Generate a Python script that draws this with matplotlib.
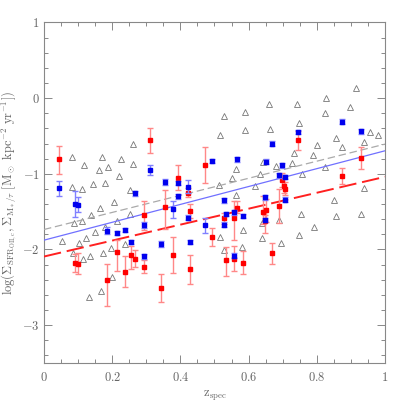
"""
Surface SFR density vs spectroscopic redshift.
"""
import numpy as np
import matplotlib
matplotlib.use("Agg")
import matplotlib.pyplot as plt
from matplotlib.ticker import MultipleLocator, FuncFormatter

# red: SFR from [OII]
red_z = [0.045, 0.090, 0.099, 0.184, 0.214, 0.239, 0.254, 0.266, 0.292, 0.292,
         0.311, 0.342, 0.354, 0.378, 0.393, 0.423, 0.428, 0.428, 0.471, 0.494,
         0.527, 0.533, 0.557, 0.557, 0.566, 0.583, 0.643, 0.648, 0.651, 0.669,
         0.689, 0.697, 0.704, 0.708, 0.744, 0.875, 0.929]
red_y = [-0.81, -2.18, -2.19, -2.40, -2.03, -2.30, -2.07, -2.12, -1.55, -2.23,
         -0.56, -2.51, -1.44, -2.07, -1.05, -1.25, -1.49, -2.26, -0.88, -1.84,
         -1.59, -2.14, -1.58, -2.12, -1.45, -2.18, -1.50, -1.63, -1.48, -2.05,
         -1.43, -1.08, -1.16, -1.20, -0.56, -1.03, -0.79]
red_err_lo = [0.19, 0.12, 0.14, 0.34, 0.26, 0.19, 0.19, 0.11, 0.19, 0.08,
              0.16, 0.19, 0.29, 0.24, 0.17, 0.06, 0.10, 0.20, 0.24, 0.12,
              0.07, 0.21, 0.30, 0.17, 0.07, 0.15, 0.16, 0.15, 0.16, 0.14,
              0.22, 0.09, 0.10, 0.08, 0.13, 0.10, 0.15]
red_err_hi = [0.18, 0.12, 0.14, 0.21, 0.15, 0.21, 0.12, 0.11, 0.19, 0.09,
              0.16, 0.18, 0.22, 0.24, 0.17, 0.06, 0.09, 0.19, 0.23, 0.12,
              0.07, 0.17, 0.22, 0.17, 0.09, 0.16, 0.20, 0.09, 0.15, 0.14,
              0.23, 0.09, 0.15, 0.09, 0.12, 0.10, 0.15]

# blue: M*/tau
blue_z = [0.045, 0.090, 0.100, 0.184, 0.214, 0.239, 0.254, 0.266, 0.292, 0.292,
          0.311, 0.342, 0.354, 0.378, 0.393, 0.393, 0.423, 0.423, 0.428, 0.471,
          0.494, 0.527, 0.527, 0.533, 0.557, 0.557, 0.566, 0.583, 0.648, 0.651,
          0.648, 0.669, 0.689, 0.697, 0.708, 0.708, 0.744, 0.875, 0.929]
blue_y = [-1.19, -1.40, -1.41, -1.75, -1.78, -1.74, -1.90, -1.26, -1.68, -2.09,
          -0.95, -1.93, -1.11, -1.47, -1.12, -1.30, -1.17, -1.58, -1.90, -1.68,
          -0.83, -1.35, -1.67, -1.53, -1.51, -2.08, -0.81, -1.56, -1.31, -0.84,
          -1.61, -0.60, -1.02, -0.89, -1.04, -1.34, -0.45, -0.31, -0.44]
blue_err = [0.10, 0.17, 0.10, 0.05, 0.03, 0.03, 0.03, 0.03, 0.04, 0.03,
            0.06, 0.04, 0.04, 0.11, 0.03, 0.03, 0.09, 0.03, 0.03, 0.10,
            0.03, 0.03, 0.03, 0.03, 0.03, 0.03, 0.03, 0.03, 0.03, 0.03,
            0.03, 0.03, 0.03, 0.03, 0.03, 0.03, 0.03, 0.03, 0.03]

# open triangles: comparison sample
tri_z = [0.081, 0.117, 0.169, 0.161, 0.187, 0.225, 0.261, 0.261, 0.081, 0.113,
         0.143, 0.180, 0.220, 0.252, 0.204, 0.164, 0.137, 0.112, 0.088, 0.150,
         0.123, 0.102, 0.052, 0.180, 0.214, 0.251, 0.239, 0.084, 0.135, 0.114,
         0.172, 0.197, 0.199, 0.168, 0.133, 0.527, 0.517, 0.589, 0.588, 0.660,
         0.662, 0.741, 0.747, 0.826, 0.823, 0.802, 0.857, 0.873, 0.897, 0.914,
         0.957, 0.979, 0.938, 0.788, 0.734, 0.726, 0.681, 0.633, 0.563, 0.551,
         0.513, 0.618, 0.564, 0.758, 0.825, 0.938, 0.849, 0.931, 0.755, 0.855,
         0.793, 0.748, 0.695, 0.688, 0.638, 0.639, 0.585, 0.580, 0.528, 0.516,
         0.642]
tri_y = [-0.775, -0.890, -0.775, -0.956, -0.907, -0.806, -0.604, -0.872, -1.176, -1.203,
         -1.141, -1.119, -1.031, -1.216, -1.374, -1.449, -1.546, -1.621, -1.656, -1.767,
         -1.846, -1.916, -1.894, -1.700, -1.626, -1.537, -1.925, -2.044, -2.088, -2.128,
         -2.048, -1.982, -2.366, -2.551, -2.634, -0.242, -0.485, -0.181, -0.427, -0.075,
         -0.405, -0.084, -0.330, 0.000, -0.198, -0.621, -0.533, -0.643, -0.123, 0.128,
         -0.454, -0.489, -0.577, -0.753, -0.731, -0.855, -0.903, -1.000, -0.938, -1.062,
         -1.154, -1.167, -1.286, -1.004, -0.912, -1.194, -1.352, -1.537, -1.537, -1.559,
         -1.709, -1.802, -1.916, -1.608, -1.656, -1.850, -1.749, -1.965, -2.009, -1.841,
         -0.846]

# linear fits, evaluated at z = 0 and z = 1
fit_z = [0.0, 1.0]
fit_tri = [-1.736, -0.608]
fit_blue = [-1.877, -0.696]
fit_red = [-2.093, -1.040]


def main():
    plt.rcParams.update({
        "mathtext.fontset": "cm",
        "font.family": "serif",
        "font.size": 8,
        "axes.linewidth": 0.8,
        "axes.edgecolor": "#888888",
        "xtick.color": "#888888",
        "ytick.color": "#888888",
        "xtick.labelcolor": "#666666",
        "ytick.labelcolor": "#666666",
        "xtick.direction": "in",
        "ytick.direction": "in",
    })

    fig = plt.figure(figsize=(4.07, 4.07), dpi=100)
    ax = fig.add_axes([0.108, 0.108, 0.838, 0.837])

    ax.plot(tri_z, tri_y, "^", mfc="none", mec="#777777", mew=0.6, ms=4.5, zorder=2)

    ax.plot(fit_z, fit_tri, "--", color="#aaaaaa", lw=0.9, dashes=(6, 3), zorder=3)
    ax.plot(fit_z, fit_blue, "-", color="#7070ff", lw=0.9, zorder=3)
    ax.plot(fit_z, fit_red, "--", color="#ff2020", lw=1.4, dashes=(9, 3), zorder=3)

    ax.errorbar(red_z, red_y, yerr=[red_err_lo, red_err_hi], fmt="s", ms=3.5,
                mfc="red", mec="red", ecolor="#ff8888", elinewidth=1.0,
                capsize=2.5, capthick=1.0, zorder=4)
    ax.errorbar(blue_z, blue_y, yerr=blue_err, fmt="s", ms=3.5,
                mfc="#0000ee", mec="#0000ee", ecolor="#8080ff", elinewidth=1.0,
                capsize=2.5, capthick=1.0, zorder=5)

    ax.set_xlim(0, 1)
    ax.set_ylim(-3.5, 1)
    ax.xaxis.set_major_locator(MultipleLocator(0.2))
    ax.xaxis.set_minor_locator(MultipleLocator(0.05))
    ax.yaxis.set_major_locator(MultipleLocator(1))
    ax.yaxis.set_minor_locator(MultipleLocator(0.2))
    ax.xaxis.set_major_formatter(FuncFormatter(lambda v, p: f"${v:g}$"))
    ax.yaxis.set_major_formatter(FuncFormatter(lambda v, p: f"${v:g}$"))
    ax.tick_params(which="both", top=True, right=True, labelsize=9)
    ax.tick_params(which="major", length=6, width=0.7, pad=6)
    ax.tick_params(axis="y", which="major", pad=3)
    ax.tick_params(which="minor", length=3, width=0.7)

    ax.set_xlabel(r"$\mathrm{z_{spec}}$", fontsize=9, color="#666666", labelpad=3)
    ax.set_ylabel(r"$\log(\Sigma_{\mathrm{SFR_{OII,c}}},\Sigma_{\mathrm{M_*/\tau}}\ "
                  r"[\mathrm{M_\odot\ kpc^{-2}\ yr^{-1}}])$",
                  fontsize=9, color="#666666")
    ax.yaxis.set_label_coords(-0.072, 0.5)

    fig.savefig("out.png", dpi=100)
    plt.close(fig)


if __name__ == "__main__":
    main()
